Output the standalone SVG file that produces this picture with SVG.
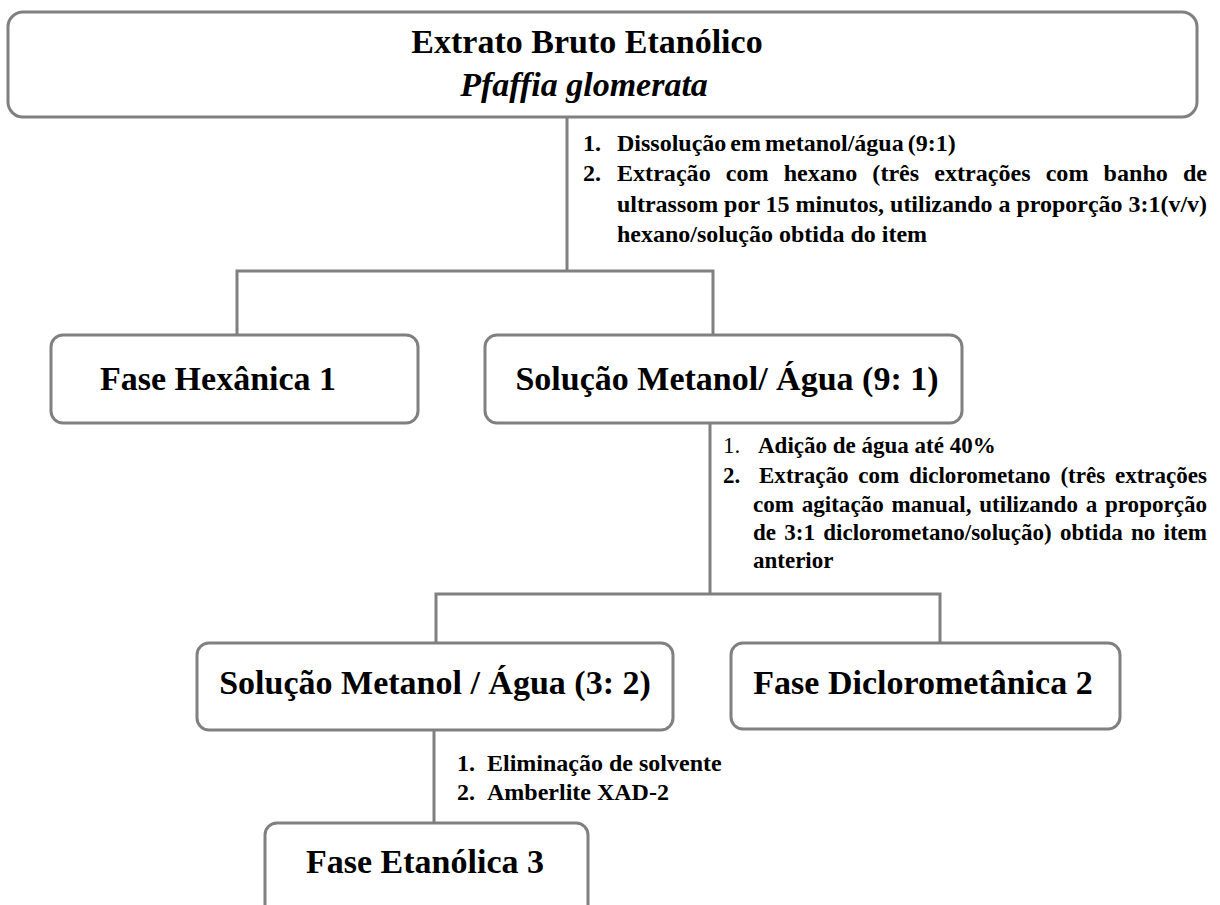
<svg xmlns="http://www.w3.org/2000/svg" width="1220" height="905" viewBox="0 0 1220 905">
<style>
.box{fill:#fff;stroke:#808080;stroke-width:3}
.con{fill:none;stroke:#808080;stroke-width:3}
.big{font-family:"Liberation Serif","Times New Roman",serif;font-weight:bold;font-size:34px;fill:#000}
.it{font-style:italic}
.sm{font-family:"Liberation Serif","Times New Roman",serif;font-weight:bold;font-size:24px;fill:#000}
.s2{font-size:23px}
.nb{font-weight:normal}
</style>
<rect width="1220" height="905" fill="#fff"/>
<g id="connectors">
<path class="con" d="M567 117V271M237 335V271H713V335"/>
<path class="con" d="M710 423V594M436 643V594H940V643"/>
<path class="con" d="M434 730V823"/>
</g>
<g id="n-extrato">
<rect class="box" x="8" y="12" width="1189" height="105" rx="15"/>
<text class="big" x="587" y="53" text-anchor="middle">Extrato Bruto Etanólico</text>
<text class="big it" x="584" y="96" text-anchor="middle">Pfaffia glomerata</text>
</g>
<g id="n-hexanica">
<rect class="box" x="51" y="335" width="367" height="88" rx="12"/>
<text class="big" x="100" y="390">Fase Hexânica 1</text>
</g>
<g id="n-metanol91">
<rect class="box" x="485" y="335" width="477" height="88" rx="12"/>
<text class="big" x="727" y="390" text-anchor="middle">Solução Metanol/ Água (9: 1)</text>
</g>
<g id="n-metanol32">
<rect class="box" x="197" y="643" width="476" height="87" rx="12"/>
<text class="big" x="435" y="694" text-anchor="middle">Solução Metanol / Água (3: 2)</text>
</g>
<g id="n-diclorometanica">
<rect class="box" x="731" y="643" width="389" height="86" rx="12"/>
<text class="big" x="923" y="694" text-anchor="middle">Fase Diclorometânica 2</text>
</g>
<g id="n-etanolica">
<rect class="box" x="265" y="823" width="323" height="100" rx="12"/>
<text class="big" x="425" y="873" text-anchor="middle">Fase Etanólica 3</text>
</g>
<g id="step1">
<text class="sm" x="583" y="151">1.</text>
<text class="sm" x="617" y="151" word-spacing="-2">Dissolução em metanol/água (9:1)</text>
<text class="sm" x="583" y="181">2.</text>
<text class="sm" x="617" y="181" word-spacing="9" textLength="590" lengthAdjust="spacingAndGlyphs">Extração com hexano (três extrações com banho de</text>
<text class="sm" x="617" y="212" textLength="590" lengthAdjust="spacingAndGlyphs">ultrassom por 15 minutos, utilizando a proporção 3:1(v/v)</text>
<text class="sm" x="617" y="242">hexano/solução obtida do item</text>
</g>
<g id="step2">
<text class="sm s2 nb" x="723" y="453">1.</text>
<text class="sm s2" x="758" y="453">Adição de água até 40%</text>
<text class="sm s2" x="723" y="483">2.</text>
<text class="sm s2" x="759" y="483" word-spacing="4" textLength="448" lengthAdjust="spacingAndGlyphs">Extração com diclorometano (três extrações</text>
<text class="sm s2" x="753" y="512" word-spacing="2" textLength="454" lengthAdjust="spacingAndGlyphs">com agitação manual, utilizando a proporção</text>
<text class="sm s2" x="753" y="540" word-spacing="2.5" textLength="454" lengthAdjust="spacingAndGlyphs">de 3:1 diclorometano/solução) obtida no item</text>
<text class="sm s2" x="753" y="568">anterior</text>
</g>
<g id="step3">
<text class="sm" x="457" y="771">1.</text>
<text class="sm" x="487" y="771">Eliminação de solvente</text>
<text class="sm" x="457" y="800">2.</text>
<text class="sm" x="487" y="800">Amberlite XAD-2</text>
</g>
</svg>
